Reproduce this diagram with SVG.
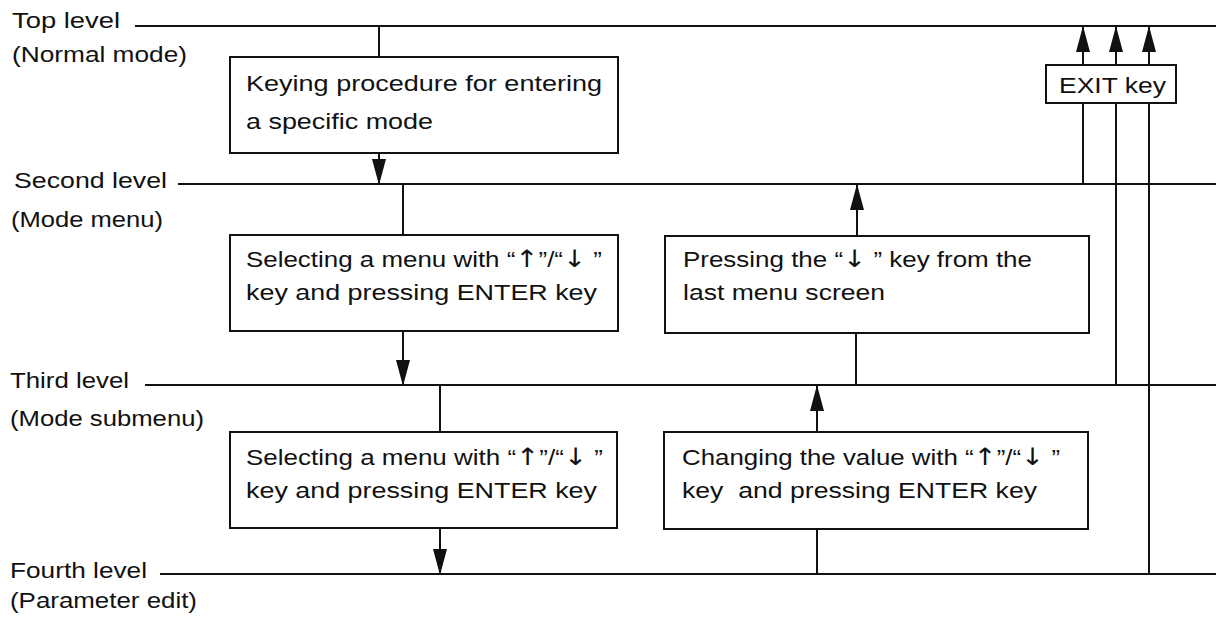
<svg xmlns="http://www.w3.org/2000/svg" width="1216" height="619" viewBox="0 0 1216 619">
<style>
text{font-family:"Liberation Sans",Arial,sans-serif;font-size:22.5px;fill:#111}
.ar{font-family:"DejaVu Sans",sans-serif;font-size:24px}
.box{fill:#fff;stroke:#111;stroke-width:2}
.ln{stroke:#111;stroke-width:2;fill:none}
</style>
<defs>
<marker id="ah" markerUnits="userSpaceOnUse" markerWidth="26" markerHeight="14" refX="25" refY="7" orient="auto" viewBox="0 0 26 14">
<path d="M0,0 L26,7 L0,14 z" fill="#111"/>
</marker>
</defs>
<rect width="1216" height="619" fill="#fff"/>
<g id="levels">
<text x="12" y="28" textLength="108" lengthAdjust="spacingAndGlyphs">Top level</text>
<text x="12" y="62" textLength="175" lengthAdjust="spacingAndGlyphs">(Normal mode)</text>
<text x="14" y="188" textLength="153" lengthAdjust="spacingAndGlyphs">Second level</text>
<text x="11" y="227" textLength="152" lengthAdjust="spacingAndGlyphs">(Mode menu)</text>
<text x="10" y="388" textLength="119" lengthAdjust="spacingAndGlyphs">Third level</text>
<text x="10" y="426" textLength="194" lengthAdjust="spacingAndGlyphs">(Mode submenu)</text>
<text x="10" y="578" textLength="137" lengthAdjust="spacingAndGlyphs">Fourth level</text>
<text x="10" y="608" textLength="187" lengthAdjust="spacingAndGlyphs">(Parameter edit)</text>
</g>
<g id="connectors">
<line class="ln" x1="135" y1="26" x2="1216" y2="26"/>
<line class="ln" x1="178" y1="184" x2="1216" y2="184"/>
<line class="ln" x1="145" y1="385" x2="1216" y2="385"/>
<line class="ln" x1="160" y1="574" x2="1216" y2="574"/>
<line class="ln" x1="379" y1="26" x2="379" y2="57"/>
<line class="ln" x1="379" y1="153" x2="379" y2="184" marker-end="url(#ah)"/>
<line class="ln" x1="403" y1="184" x2="403" y2="235"/>
<line class="ln" x1="403" y1="331" x2="403" y2="385" marker-end="url(#ah)"/>
<line class="ln" x1="856" y1="385" x2="856" y2="333"/>
<line class="ln" x1="857" y1="236" x2="857" y2="185" marker-end="url(#ah)"/>
<line class="ln" x1="440" y1="385" x2="440" y2="432"/>
<line class="ln" x1="440" y1="528" x2="440" y2="574" marker-end="url(#ah)"/>
<line class="ln" x1="817" y1="574" x2="817" y2="529"/>
<line class="ln" x1="817" y1="432" x2="817" y2="386" marker-end="url(#ah)"/>
<line class="ln" x1="1083" y1="184" x2="1083" y2="103"/>
<line class="ln" x1="1116" y1="385" x2="1116" y2="103"/>
<line class="ln" x1="1149" y1="574" x2="1149" y2="103"/>
<line class="ln" x1="1083" y1="65" x2="1083" y2="27" marker-end="url(#ah)"/>
<line class="ln" x1="1116" y1="65" x2="1116" y2="27" marker-end="url(#ah)"/>
<line class="ln" x1="1149" y1="65" x2="1149" y2="27" marker-end="url(#ah)"/>
</g>
<g id="box-enter-mode">
<rect class="box" x="230" y="57" width="388" height="96"/>
<text x="246" y="91" textLength="356" lengthAdjust="spacingAndGlyphs">Keying procedure for entering</text>
<text x="246" y="129" textLength="187" lengthAdjust="spacingAndGlyphs">a specific mode</text>
</g>
<g id="box-select-menu">
<rect class="box" x="230" y="235" width="388" height="96"/>
<text x="246" y="267" textLength="356" lengthAdjust="spacingAndGlyphs">Selecting a menu with “<tspan class="ar">↑</tspan>”/“<tspan class="ar">↓</tspan> ”</text>
<text x="246" y="300" textLength="351" lengthAdjust="spacingAndGlyphs">key and pressing ENTER key</text>
</g>
<g id="box-last-menu">
<rect class="box" x="665" y="236" width="424" height="97"/>
<text x="683" y="267" textLength="349" lengthAdjust="spacingAndGlyphs">Pressing the “<tspan class="ar">↓</tspan> ” key from the</text>
<text x="683" y="300" textLength="202" lengthAdjust="spacingAndGlyphs">last menu screen</text>
</g>
<g id="box-select-submenu">
<rect class="box" x="230" y="432" width="387" height="96"/>
<text x="246" y="465" textLength="357" lengthAdjust="spacingAndGlyphs">Selecting a menu with “<tspan class="ar">↑</tspan>”/“<tspan class="ar">↓</tspan> ”</text>
<text x="246" y="498" textLength="351" lengthAdjust="spacingAndGlyphs">key and pressing ENTER key</text>
</g>
<g id="box-change-value">
<rect class="box" x="664" y="432" width="424" height="97"/>
<text x="682" y="465" textLength="378" lengthAdjust="spacingAndGlyphs">Changing the value with “<tspan class="ar">↑</tspan>”/“<tspan class="ar">↓</tspan> ”</text>
<text x="682" y="498" textLength="355" lengthAdjust="spacingAndGlyphs" xml:space="preserve">key  and pressing ENTER key</text>
</g>
<g id="box-exit">
<rect class="box" x="1046" y="65" width="130" height="38"/>
<text x="1059" y="93" textLength="107" lengthAdjust="spacingAndGlyphs">EXIT key</text>
</g>
</svg>
